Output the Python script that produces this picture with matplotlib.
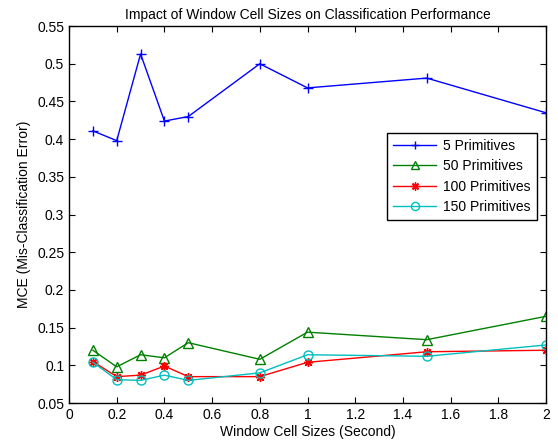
import matplotlib.pyplot as plt

plt.rcParams['font.family'] = ['Liberation Sans', 'DejaVu Sans']

# window cell sizes (seconds)
x_vals = [0.1, 0.2, 0.3, 0.4, 0.5, 0.8, 1.0, 1.5, 2.0]

mce_5 = [0.411, 0.398, 0.513, 0.424, 0.430, 0.500, 0.468, 0.481, 0.435]
mce_50 = [0.120, 0.098, 0.114, 0.110, 0.130, 0.108, 0.144, 0.134, 0.165]
mce_100 = [0.105, 0.085, 0.087, 0.099, 0.085, 0.085, 0.104, 0.118, 0.120]
mce_150 = [0.104, 0.081, 0.080, 0.087, 0.080, 0.090, 0.114, 0.112, 0.127]

labels = ['5 Primitives', '50 Primitives', '100 Primitives', '150 Primitives']

fig = plt.figure(figsize=(5.58, 4.42), dpi=100)
ax = fig.add_axes([0.1237, 0.0882, 0.8548, 0.8528])

ax.plot(x_vals, mce_5, color='#0000ff', marker='+', ms=7, mew=1, lw=1, label=labels[0])
ax.plot(x_vals, mce_50, color='#008000', marker='^', ms=6.5, mfc='none', lw=1, label=labels[1])
ax.plot(x_vals, mce_100, color='#ff0000', marker=(8, 2, 0), ms=6.5, mew=1, lw=1, label=labels[2])
ax.plot(x_vals, mce_150, color='#00bfbf', marker='o', ms=6.5, mfc='none', lw=1, label=labels[3])

ax.set_xlim(0, 2)
ax.set_ylim(0.05, 0.55)
ax.set_xticks([0, 0.2, 0.4, 0.6, 0.8, 1, 1.2, 1.4, 1.6, 1.8, 2])
ax.set_xticklabels(['0', '0.2', '0.4', '0.6', '0.8', '1', '1.2', '1.4', '1.6', '1.8', '2'])
ax.set_yticks([0.05, 0.1, 0.15, 0.2, 0.25, 0.3, 0.35, 0.4, 0.45, 0.5, 0.55])
ax.set_yticklabels(['0.05', '0.1', '0.15', '0.2', '0.25', '0.3', '0.35', '0.4', '0.45', '0.5', '0.55'])
ax.tick_params(direction='in', top=True, right=True, labelsize=10, length=4)
for s in ax.spines.values():
    s.set_linewidth(1)

ax.set_xlabel('Window Cell Sizes (Second)', fontsize=10, labelpad=2)
ax.set_ylabel('MCE (Mis-Classification Error)', fontsize=10)
ax.set_title('Impact of Window Cell Sizes on Classification Performance', fontsize=10, pad=5)

leg = ax.legend(loc='upper right', bbox_to_anchor=(0.981, 0.717), fontsize=10,
                fancybox=False, edgecolor='black', framealpha=1,
                borderaxespad=0, handlelength=3.1, handletextpad=0.5,
                labelspacing=0.45, borderpad=0.45, markerscale=0.9)
leg.get_frame().set_linewidth(1)

fig.savefig('out.png', dpi=100)
